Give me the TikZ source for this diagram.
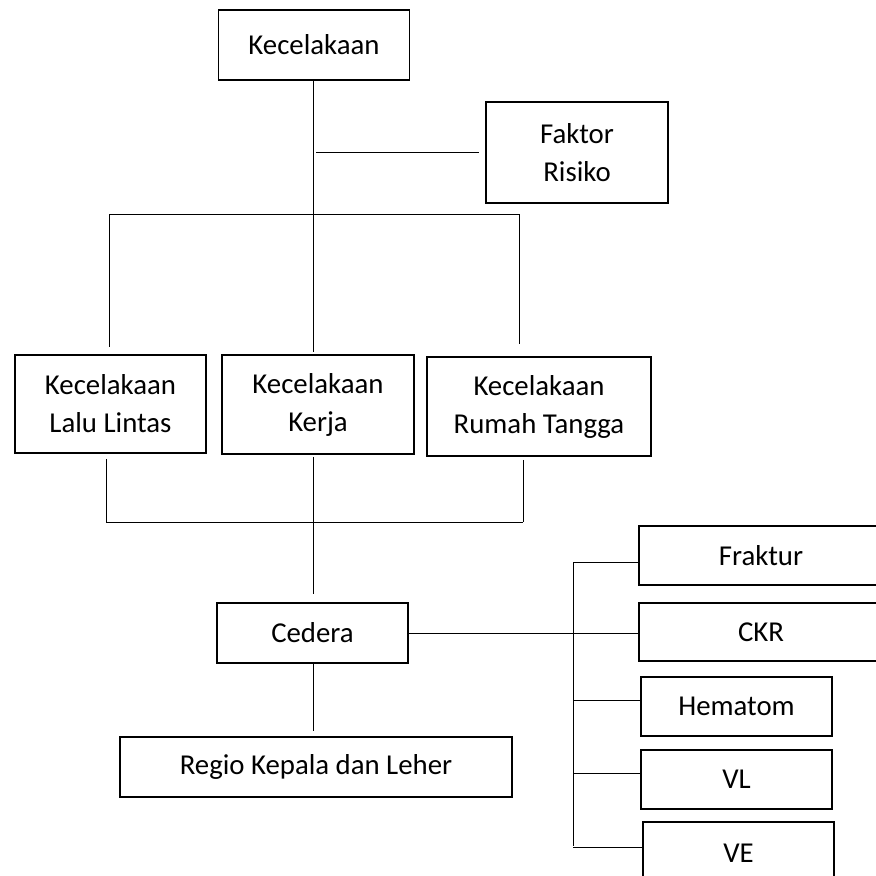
\documentclass[tikz,border=0pt]{standalone}
\usepackage{fontspec}
\setmainfont{Carlito}
\begin{document}
\begin{tikzpicture}[x=1pt,y=-1pt,
	box/.style={draw,line width=1.6pt,align=center,inner sep=0pt,minimum width=#1},
	box/.default=191pt,
	link/.style={line width=0.9pt},
	font=\fontsize{28.8}{38}\selectfont]
		\useasboundingbox (0,0) rectangle (876,876);
		\clip (0,0) rectangle (876,876);
		
		\node[box,minimum height=70pt] (kec) at (314,45) {Kecelakaan};
		\node[box=182pt,minimum height=101pt] (faktor) at (577,152.5) {Faktor\\Risiko};
		
		\node[box,minimum height=98pt] (lalu) at (110.5,404) {Kecelakaan\\Lalu Lintas};
		\node[box=192pt,minimum height=99pt] (kerja) at (318,404.5) {Kecelakaan\\Kerja};
		\node[box=224pt,minimum height=99pt] (rumah) at (539,406.5) {Kecelakaan\\Rumah Tangga};
		
		\node[box,minimum height=60pt] (cedera) at (312.5,633) {Cedera};
		\node[box=392pt,minimum height=60pt] (regio) at (316,767) {Regio Kepala dan Leher};
		
		\node[box=244pt,minimum height=59pt] (fraktur) at (761,555.5) {Fraktur};
		\node[box=244pt,minimum height=58pt] (ckr) at (761,632) {CKR};
		\node[box,minimum height=59pt] (hematom) at (736.5,706.5) {Hematom};
		\node[box,minimum height=59pt] (vl) at (736.5,779.5) {VL};
		\node[box,minimum height=62pt] (ve) at (738.5,853) {VE};
		
		\coordinate (top) at (313,214);
		\coordinate (topl) at (109,214);
		\coordinate (topr) at (519,214);
		\coordinate (bot) at (313,522);
		\coordinate (botl) at (106,522);
		\coordinate (botr) at (523,522);
		\coordinate (railtop) at (573,562);
		\coordinate (railbot) at (573,846);
		
		\draw[link] (kec.south -| top) -- (top);
		\draw[link] ([xshift=3pt]top |- faktor.west) -- ([xshift=-6pt]faktor.west);
		\draw[link] (topl) -- (topr);
		\draw[link,shorten >=7pt] (topl) -- (topl |- lalu.north);
		\draw[link,shorten >=2pt] (top) -- (top |- kerja.north);
		\draw[link,shorten >=12pt] (topr) -- (topr |- rumah.north);
		
		\draw[link,shorten <=5pt] (botl |- lalu.south) -- (botl);
		\draw[link,shorten <=2pt] (bot |- kerja.south) -- (bot);
		\draw[link,shorten <=3pt] (botr |- rumah.south) -- (botr);
		\draw[link] (botl) -- (botr);
		\draw[link,shorten >=8pt] (bot) -- (bot |- cedera.north);
		\draw[link,shorten >=5pt] (cedera.south -| bot) -- (bot |- regio.north);
		
		\draw[link] (cedera.east) -- (cedera.east -| ckr.west);
		\draw[link] (railtop) -- (railbot);
		\draw[link] (railtop) -- (railtop -| fraktur.west);
		\foreach \n in {hematom,vl,ve}{
			\draw[link] (railtop |- \n.west) ++(0,-6) -- ([yshift=6pt]\n.west);
		}
\end{tikzpicture}
\end{document}
